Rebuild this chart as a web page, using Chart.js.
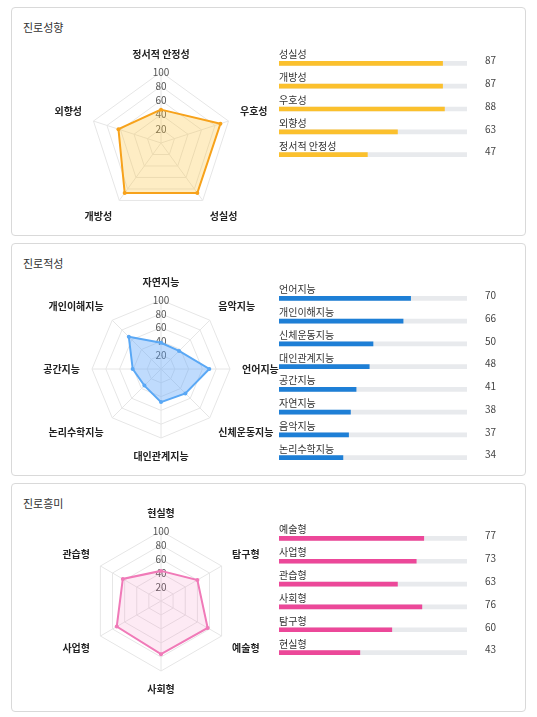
<!DOCTYPE html>
<html><head><meta charset="utf-8">
<script src="https://cdn.jsdelivr.net/npm/chart.js@4"></script>
<style>
body{margin:0;background:#fff;font-family:"Noto Sans CJK KR","Noto Sans",sans-serif;width:537px;height:717px;position:relative;overflow:hidden}
.card{position:absolute;left:11px;width:515px;border:1px solid #d9d9d9;border-radius:4px;box-sizing:border-box}
.title{position:absolute;left:23px;font-size:11px;color:#333}
canvas{position:absolute}
</style></head><body>
<div class="card" style="top:7px;height:229px"></div>
<div class="card" style="top:243px;height:233px"></div>
<div class="card" style="top:483px;height:229px"></div>
<div class="title" style="top:19px">진로성향</div>
<div class="title" style="top:255px">진로적성</div>
<div class="title" style="top:495px">진로흥미</div>
<div style="position:absolute;left:41px;top:40px;width:240px;height:190px"><canvas id="r1"></canvas></div>
<div style="position:absolute;left:36px;top:276px;width:250px;height:186px"><canvas id="r2"></canvas></div>
<div style="position:absolute;left:41px;top:507px;width:240px;height:188px"><canvas id="r3"></canvas></div>
<div style="position:absolute;left:275px;top:40px;width:235px;height:126px"><canvas id="b1"></canvas></div>
<div style="position:absolute;left:275px;top:275px;width:235px;height:194px"><canvas id="b2"></canvas></div>
<div style="position:absolute;left:275px;top:515px;width:235px;height:149px"><canvas id="b3"></canvas></div>
<script>
const radar1Labels=["정서적 안정성","우호성","성실성","개방성","외향성"];
const radar1Values=[47,88,87,87,63];
const bar1Labels=["성실성","개방성","우호성","외향성","정서적 안정성"];
const bar1Values=[87,87,88,63,47];
const radar2Labels=["자연지능","음악지능","언어지능","신체운동지능","대인관계지능","논리수학지능","공간지능","개인이해지능"];
const radar2Values=[38,37,70,50,48,34,41,66];
const bar2Labels=["언어지능","개인이해지능","신체운동지능","대인관계지능","공간지능","자연지능","음악지능","논리수학지능"];
const bar2Values=[70,66,50,48,41,38,37,34];
const radar3Labels=["현실형","탐구형","예술형","사회형","사업형","관습형"];
const radar3Values=[43,60,77,76,73,63];
const bar3Labels=["예술형","사업형","관습형","사회형","탐구형","현실형"];
const bar3Values=[77,73,63,76,60,43];
const tickValues=[20,40,60,80,100];
const FONT='"Noto Sans CJK KR","Noto Sans",sans-serif';
Chart.defaults.font.family=FONT;
function radar(id,labels,values,border,fill){
  new Chart(document.getElementById(id),{type:'radar',
    data:{labels,datasets:[{data:values,borderColor:border,backgroundColor:fill,borderWidth:2,pointRadius:2,pointBackgroundColor:border,pointBorderWidth:0}]},
    options:{responsive:true,maintainAspectRatio:false,animation:false,plugins:{legend:{display:false},tooltip:{enabled:false}},
      scales:{r:{min:0,max:100,ticks:{stepSize:20,color:'#555',font:{size:10},backdropColor:'rgba(0,0,0,0)',callback:v=>tickValues.includes(v)?v:''},
        grid:{color:'#e6e6e6'},angleLines:{color:'#e6e6e6'},pointLabels:{color:'#222',font:{size:10,weight:'bold'}}}}}});
}
const barText={id:'bt',afterDatasetsDraw(c){const ctx=c.ctx;const meta=c.getDatasetMeta(1);const vals=c.data.datasets[1].data;
  ctx.save();ctx.font='10px '+FONT;
  meta.data.forEach((b,i)=>{ctx.fillStyle='#333';ctx.textAlign='left';ctx.textBaseline='alphabetic';ctx.fillText(c.data.labels[i],c.chartArea.left,b.y-5);
    ctx.fillStyle='#444';ctx.textBaseline='middle';ctx.fillText(vals[i],c.chartArea.right+18,b.y-3);});
  ctx.restore();}};
function bars(id,labels,values,color){
  new Chart(document.getElementById(id),{type:'bar',plugins:[barText],
    data:{labels,datasets:[{data:labels.map(()=>100),backgroundColor:'#e8eaed',barThickness:4,grouped:false,order:2},
      {data:values,backgroundColor:color,barThickness:4,grouped:false,order:1}]},
    options:{indexAxis:'y',responsive:true,maintainAspectRatio:false,animation:false,layout:{padding:{left:4,right:43,top:12,bottom:0}},
      plugins:{legend:{display:false},tooltip:{enabled:false}},
      scales:{x:{display:false,min:0,max:100},y:{display:false}}}});
}
radar('r1',radar1Labels,radar1Values,'#f7a21b','rgba(252,196,60,0.3)');
radar('r2',radar2Labels,radar2Values,'#5aa8f5','rgba(96,165,250,0.4)');
radar('r3',radar3Labels,radar3Values,'#f07ab8','rgba(244,114,182,0.15)');
bars('b1',bar1Labels,bar1Values,'#fbc02d');
bars('b2',bar2Labels,bar2Values,'#1e7fd6');
bars('b3',bar3Labels,bar3Values,'#ec4899');
</script></body></html>
